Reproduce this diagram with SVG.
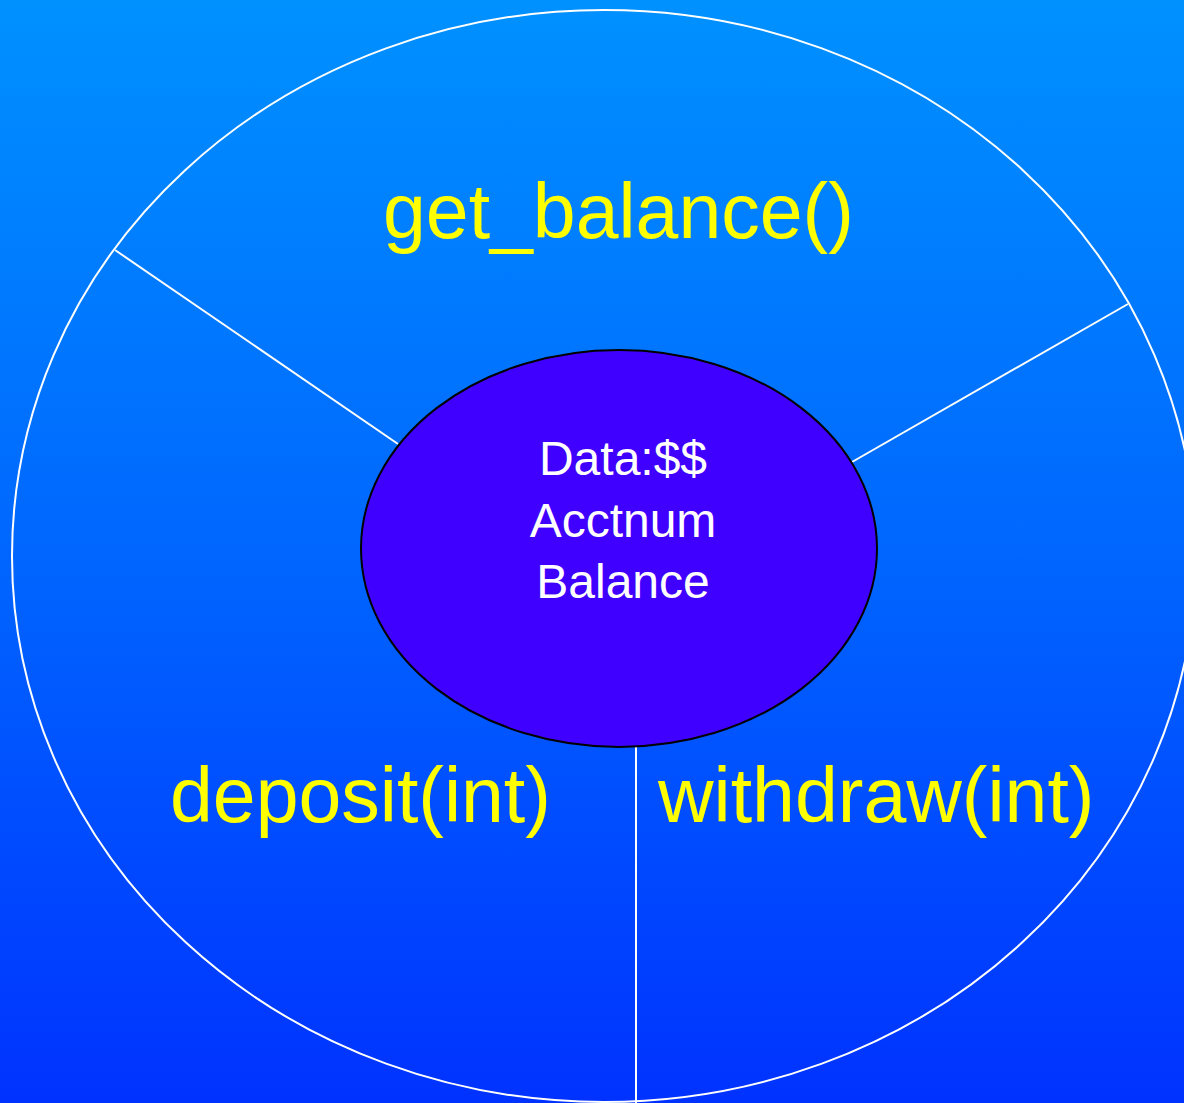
<svg xmlns="http://www.w3.org/2000/svg" width="1184" height="1103" viewBox="0 0 1184 1103">
  <defs>
    <linearGradient id="bg" x1="0" y1="0" x2="0" y2="1">
      <stop offset="0" stop-color="#0091FF"/>
      <stop offset="0.5" stop-color="#0066FF"/>
      <stop offset="1" stop-color="#0032FF"/>
    </linearGradient>
    <style>
      .ring { fill: none; stroke: #FFFFFF; stroke-width: 2; }
      .spoke { stroke: #FFFFFF; stroke-width: 2; fill: none; }
      .core { fill: #4000FF; stroke: #000000; stroke-width: 2; }
      .method { font-family: "Liberation Sans", Arial, sans-serif; font-size: 77px; fill: #FFFF00; }
      .data { font-family: "Liberation Sans", Arial, sans-serif; font-size: 48px; fill: #FFFFFF; text-anchor: middle; }
    </style>
  </defs>

  <rect x="0" y="0" width="1184" height="1103" fill="url(#bg)"/>

  <!-- outer boundary of the object -->
  <g id="object-boundary">
    <ellipse class="ring" cx="604" cy="556" rx="592" ry="546"/>
  </g>

  <!-- dividers between the method sectors -->
  <g id="connectors">
    <line class="spoke" x1="115" y1="250" x2="398" y2="444"/>
    <line class="spoke" x1="1128" y1="304" x2="852" y2="462"/>
    <line class="spoke" x1="636" y1="740" x2="636" y2="1103"/>
  </g>

  <!-- encapsulated data -->
  <g id="data-core">
    <ellipse class="core" cx="619" cy="548.5" rx="258" ry="198.5"/>
    <text class="data" x="623" y="475">Data:$$</text>
    <text class="data" x="623" y="537">Acctnum</text>
    <text class="data" x="623" y="598">Balance</text>
  </g>

  <!-- public methods -->
  <g id="method-get-balance">
    <text class="method" x="383" y="238">get_balance()</text>
  </g>
  <g id="method-deposit">
    <text class="method" x="170" y="822">deposit(int)</text>
  </g>
  <g id="method-withdraw">
    <text class="method" x="658" y="822">withdraw(int)</text>
  </g>
</svg>
